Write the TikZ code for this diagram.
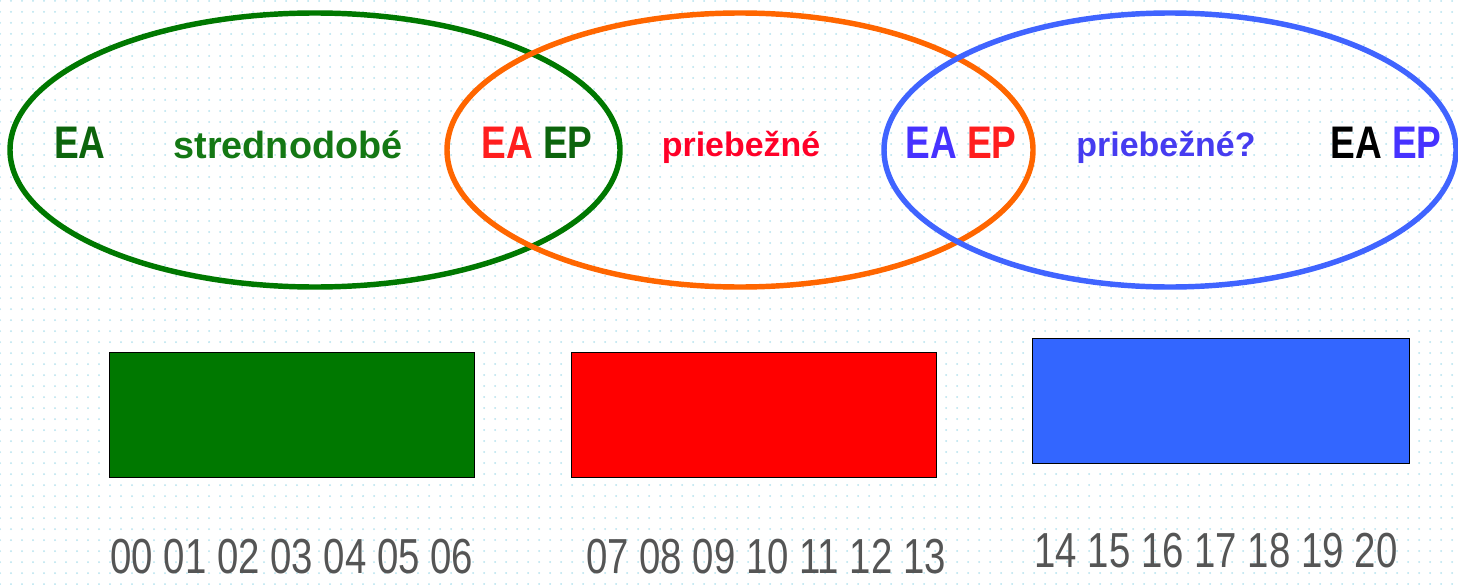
\documentclass[tikz,border=0pt]{standalone}
\usepackage{fontspec}
\setmainfont{Liberation Sans}
\newfontfamily\narrowfont{Liberation Sans}[FakeStretch=0.81]
\newfontfamily\digitfont{Liberation Sans}[FakeStretch=0.78]
\usetikzlibrary{patterns.meta}

\definecolor{dotcyan}{RGB}{180,226,238}
\definecolor{ringgreen}{RGB}{0,120,0}
\definecolor{ringorange}{RGB}{255,102,0}
\definecolor{ringblue}{RGB}{64,100,255}
\definecolor{eagreen}{RGB}{12,100,12}
\definecolor{wordgreen}{RGB}{20,120,20}
\definecolor{tagred}{RGB}{255,30,30}
\definecolor{wordred}{RGB}{255,0,40}
\definecolor{tagblue}{RGB}{70,50,255}
\definecolor{wordblue}{RGB}{70,60,240}
\definecolor{barblue}{RGB}{51,102,255}
\definecolor{numgray}{RGB}{85,85,85}

\tikzset{
  ring/.style={line width=3.1pt},
  tag/.style={anchor=base, inner sep=0pt, font=\narrowfont\bfseries\fontsize{26}{28}\selectfont},
  word/.style={anchor=base, inner sep=0pt, font=\bfseries\fontsize{19.3}{21}\selectfont},
  bar/.style={draw=black, thin, minimum width=7.3cm, minimum height=2.5cm, inner sep=0pt},
  hours/.style={anchor=base, inner sep=0pt, text=numgray, font=\digitfont\fontsize{28}{30}\selectfont}
}

\begin{document}
\begin{tikzpicture}
    \useasboundingbox (0,0) rectangle (29.16,11.68);
    \fill[white] (0,0) rectangle (29.16,11.68);
    \fill[pattern={Dots[distance=0.22cm,radius=0.02cm]}, pattern color=dotcyan] (0,0) rectangle (29.16,11.68);

    % the three sets
    \draw[ring, ringgreen] (6.3,8.68) ellipse (6.1 and 2.74);
    \draw[ring, ringorange] (14.8,8.68) ellipse (5.86 and 2.74);
    \draw[ring, ringblue] (23.4,8.68) ellipse (5.72 and 2.74);

    \node[tag, eagreen] (eaA) at (1.6,8.52) {EA};
    \node[word, wordgreen, font=\bfseries\fontsize{21.5}{23}\selectfont] (mid) at (5.76,8.52) {strednodobé};
    \node[tag] (eaB) at (10.74,8.52) {\textcolor{tagred}{EA} \textcolor{eagreen}{EP}};
    \node[word, wordred] (run) at (14.82,8.55) {priebežné};
    \node[tag] (eaC) at (19.22,8.52) {\textcolor{tagblue}{EA} \textcolor{tagred}{EP}};
    \node[word, wordblue] (runq) at (23.32,8.55) {priebežné?};
    \node[tag] (eaD) at (27.72,8.52) {EA \textcolor{tagblue}{EP}};

    % bars and hours
    \node[bar, fill=ringgreen] (gbar) at (5.83,3.39) {};
    \node[bar, fill=red] (rbar) at (15.07,3.39) {};
    \node[bar, fill=barblue, minimum width=7.54cm] (bbar) at (24.41,3.67) {};

    \node[hours] (hA) at (5.84,0.22) {00 01 02 03 04 05 06};
    \node[hours] (hB) at (15.32,0.22) {07 08 09 10 11 12 13};
    \node[hours] (hC) at (24.32,0.34) {14 15 16 17 18 19 20};
\end{tikzpicture}
\end{document}
